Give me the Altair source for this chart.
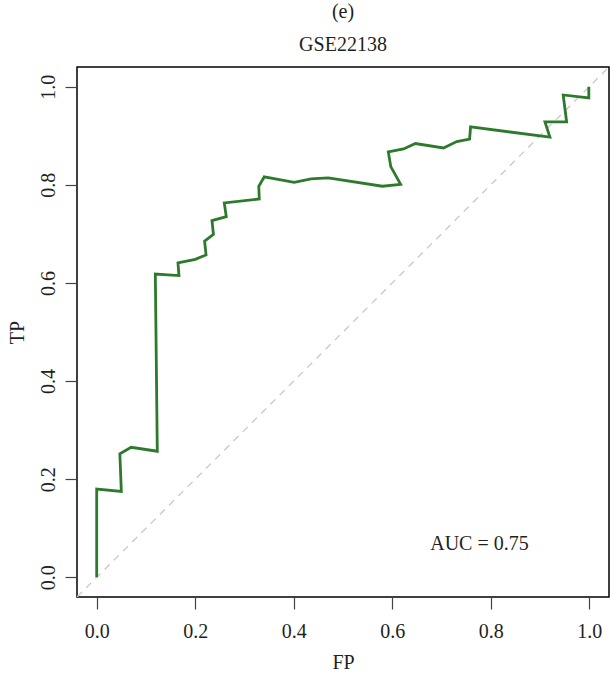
import altair as alt
import pandas as pd

# ROC curve coordinates (false positive rate, true positive rate)
fp = [0.000, 0.000, 0.050, 0.047, 0.070, 0.123, 0.119, 0.167, 0.165, 0.200,
      0.222, 0.219, 0.237, 0.234, 0.263, 0.259, 0.330, 0.329, 0.340, 0.401,
      0.435, 0.470, 0.580, 0.617, 0.597, 0.592, 0.623, 0.647, 0.704, 0.731,
      0.757, 0.759, 0.920, 0.910, 0.954, 0.947, 0.999, 0.999]
tp = [0.000, 0.180, 0.175, 0.252, 0.265, 0.257, 0.618, 0.615, 0.641, 0.648,
      0.657, 0.685, 0.699, 0.727, 0.735, 0.763, 0.771, 0.797, 0.816, 0.805,
      0.812, 0.814, 0.797, 0.801, 0.837, 0.867, 0.873, 0.884, 0.875, 0.888,
      0.893, 0.918, 0.897, 0.928, 0.928, 0.983, 0.977, 1.000]

ticks = [0.0, 0.2, 0.4, 0.6, 0.8, 1.0]
auc_text = ["AUC = 0.75"]
auc_pos = [(0.777, 0.067)]

FONT = "Liberation Serif"
INK = "#231f20"
FS = 20

roc = pd.DataFrame({"FP": fp, "TP": tp, "step": list(range(len(fp)))})
diag = pd.DataFrame({"FP": [-0.04, 1.04], "TP": [-0.04, 1.04]})
auc = pd.DataFrame({"FP": [p[0] for p in auc_pos], "TP": [p[1] for p in auc_pos],
                    "label": auc_text})

xs = alt.Scale(domain=[-0.04, 1.04], nice=False, zero=False)
ys = alt.Scale(domain=[-0.04, 1.04], nice=False, zero=False)

x_axis = alt.Axis(values=ticks, format=".1f", title="FP", grid=False, domain=False,
                  tickSize=12, tickColor="#444444", tickWidth=1.2,
                  labelFont=FONT, labelFontSize=FS, labelColor=INK, labelPadding=12,
                  titleFont=FONT, titleFontSize=FS, titleFontWeight="normal",
                  titleColor=INK, titlePadding=11)
y_axis = alt.Axis(values=ticks, format=".1f", title="TP", grid=False, domain=False,
                  tickSize=12, tickColor="#444444", tickWidth=1.2,
                  labelFont=FONT, labelFontSize=FS, labelColor=INK, labelPadding=7,
                  labelAngle=270, labelAlign="center", labelBaseline="bottom",
                  titleFont=FONT, titleFontSize=FS, titleFontWeight="normal",
                  titleColor=INK, titlePadding=11)

diagonal = alt.Chart(diag).mark_line(
    color="#c8c8c8", strokeDash=[7, 6], strokeWidth=1.3, clip=True
).encode(
    x=alt.X("FP:Q", scale=xs, axis=x_axis),
    y=alt.Y("TP:Q", scale=ys, axis=y_axis),
)

curve = alt.Chart(roc).mark_line(
    color="#2e7a2c", strokeWidth=2.8, strokeJoin="miter"
).encode(
    x=alt.X("FP:Q", scale=xs),
    y=alt.Y("TP:Q", scale=ys),
    order="step:Q",
)

label = alt.Chart(auc).mark_text(
    font=FONT, fontSize=FS, color=INK, align="center", baseline="middle"
).encode(
    x=alt.X("FP:Q", scale=xs),
    y=alt.Y("TP:Q", scale=ys),
    text="label:N",
)

chart = alt.layer(diagonal, curve, label).properties(
    width=532,
    height=530,
    padding={"left": 77, "top": 67, "right": 1, "bottom": 81},
    autosize=alt.AutoSizeParams(type="none"),
    title=alt.TitleParams(
        text="(e)", subtitle="GSE22138",
        font=FONT, fontSize=FS, fontWeight="normal", color=INK,
        subtitleFont=FONT, subtitleFontSize=FS, subtitleColor=INK,
        subtitlePadding=13, anchor="middle", offset=12,
    ),
).configure(
    background="white",
    view=alt.ViewConfig(stroke="#000000", strokeWidth=1.5),
)

chart.save("out.html", embed_options={"renderer": "svg", "actions": False})
